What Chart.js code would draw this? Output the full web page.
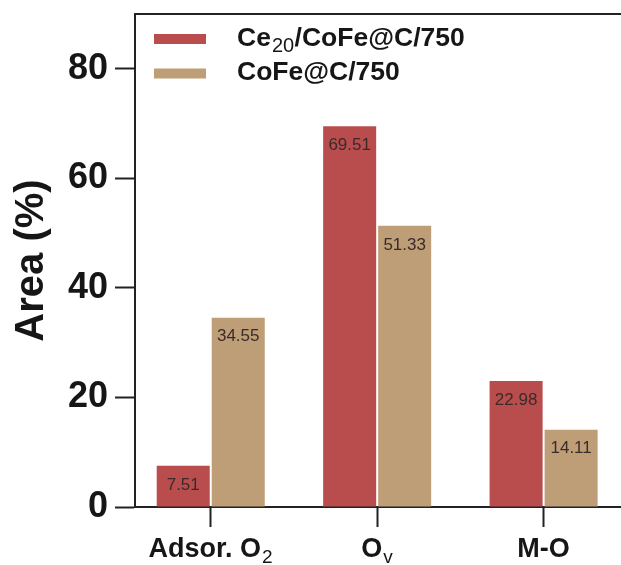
<!DOCTYPE html>
<html>
<head>
<meta charset="utf-8">
<script src="https://cdn.jsdelivr.net/npm/chart.js@4.4.0/dist/chart.umd.min.js"></script>
<style>
  html, body { margin: 0; padding: 0; background: #fff; }
  #wrap { width: 621px; height: 565px; }
</style>
</head>
<body>
<div id="wrap"><canvas id="c" width="621" height="565"></canvas></div>
<script>
// Text inside {braces} is drawn as a subscript.
const categoryLabels = ['Adsor. O{2}', 'O{v}', 'M-O'];
const seriesNames = ['Ce{20}/CoFe@C/750', 'CoFe@C/750'];
const ce20Values = [7.51, 69.51, 22.98];
const cofeValues = [34.55, 51.33, 14.11];
const yTickValues = [0, 20, 40, 60, 80];
const seriesColors = ['#B94C4C', '#BE9E77'];

const FAMILY = '"Liberation Sans", Arial, Helvetica, sans-serif';
const INK = '#161616';
const AXIS = '#222222';

function parseRich(str) {
  const parts = [];
  const re = /\{([^}]*)\}|([^{]+)/g;
  let m;
  while ((m = re.exec(str))) {
    parts.push(m[1] !== undefined ? { t: m[1], sub: true } : { t: m[2], sub: false });
  }
  return parts;
}

function drawRich(ctx, str, x, y, size, subSize, drop, align) {
  const parts = parseRich(str);
  const fontFor = p => p.sub ? `${subSize}px ${FAMILY}` : `bold ${size}px ${FAMILY}`;
  let total = 0;
  parts.forEach(p => { ctx.font = fontFor(p); p.w = ctx.measureText(p.t).width + (p.sub ? 1.5 : 0); total += p.w; });
  let cx = align === 'center' ? x - total / 2 : x;
  ctx.textAlign = 'left';
  ctx.textBaseline = 'alphabetic';
  parts.forEach(p => {
    ctx.font = fontFor(p);
    ctx.fillText(p.t, cx + (p.sub ? 1 : 0), p.sub ? y + drop : y);
    cx += p.w;
  });
}

// Category names under the x axis (with subscripts)
const categoryTicks = {
  id: 'categoryTicks',
  afterDraw(chart) {
    const ctx = chart.ctx;
    const xs = chart.scales.x;
    ctx.save();
    ctx.fillStyle = INK;
    categoryLabels.forEach((lab, i) => {
      drawRich(ctx, lab, xs.getPixelForValue(i), xs.top + 50, 27, 19, 6, 'center');
    });
    ctx.restore();
  }
};

// Value printed inside the top of each bar
const valueLabels = {
  id: 'valueLabels',
  afterDatasetsDraw(chart) {
    const ctx = chart.ctx;
    ctx.save();
    ctx.font = `17px ${FAMILY}`;
    ctx.fillStyle = '#3a2b2b';
    ctx.textAlign = 'center';
    ctx.textBaseline = 'middle';
    chart.data.datasets.forEach((ds, di) => {
      chart.getDatasetMeta(di).data.forEach((bar, i) => {
        ctx.fillText(ds.data[i].y.toFixed(2), bar.x, bar.y + 19);
      });
    });
    ctx.restore();
  }
};

// Top frame line and the legend in the upper left of the plot
const frameAndLegend = {
  id: 'frameAndLegend',
  afterDraw(chart) {
    const ctx = chart.ctx;
    const a = chart.chartArea;
    ctx.save();
    ctx.strokeStyle = AXIS;
    ctx.lineWidth = 2;
    ctx.beginPath();
    ctx.moveTo(a.left - 1, a.top);
    ctx.lineTo(a.right, a.top);
    ctx.stroke();

    chart.data.datasets.forEach((ds, i) => {
      const top = a.top + 20 + i * 34.5;
      ctx.fillStyle = ds.backgroundColor;
      ctx.fillRect(a.left + 19, top, 52, 10);
      ctx.fillStyle = INK;
      drawRich(ctx, ds.label, a.left + 102, top + 11.5, 26.5, 20, 6.5, 'left');
    });
    ctx.restore();
  }
};

new Chart(document.getElementById('c'), {
  type: 'bar',
  data: {
    datasets: [
      {
        label: seriesNames[0],
        data: ce20Values.map((v, i) => ({ x: i, y: v })),
        backgroundColor: seriesColors[0],
        categoryPercentage: 0.661,
        barPercentage: 0.964
      },
      {
        label: seriesNames[1],
        data: cofeValues.map((v, i) => ({ x: i, y: v })),
        backgroundColor: seriesColors[1],
        categoryPercentage: 0.661,
        barPercentage: 0.964
      }
    ]
  },
  options: {
    responsive: false,
    animation: false,
    layout: { padding: { top: 14, left: 0, right: 0, bottom: 0 } },
    plugins: {
      legend: { display: false },
      tooltip: { enabled: false }
    },
    scales: {
      x: {
        type: 'linear',
        min: -0.455,
        max: 2.465,
        offset: false,
        grid: {
          offset: false,
          drawOnChartArea: false,
          drawTicks: true,
          tickLength: 20,
          tickWidth: 2,
          tickColor: AXIS
        },
        border: { display: true, width: 2, color: AXIS },
        ticks: { callback: () => '', autoSkip: false },
        afterBuildTicks: s => { s.ticks = categoryLabels.map((_, i) => ({ value: i })); },
        afterFit: s => { s.height = 58; s.paddingLeft = 0; s.paddingRight = 0; }
      },
      y: {
        min: 0,
        max: 90,
        grid: {
          drawOnChartArea: false,
          drawTicks: true,
          tickLength: 20,
          tickWidth: 2,
          tickColor: AXIS
        },
        border: { display: true, width: 2, color: AXIS },
        ticks: {
          font: { family: FAMILY, weight: 'bold', size: 36 },
          color: INK,
          padding: 7
        },
        afterBuildTicks: s => { s.ticks = yTickValues.map(v => ({ value: v })); },
        title: {
          display: true,
          text: 'Area (%)',
          font: { family: FAMILY, weight: 'bold', size: 40 },
          color: INK,
          padding: { top: 8, bottom: 0 }
        },
        afterFit: s => { s.width = 135; s.paddingTop = 0; s.paddingBottom = 0; }
      }
    }
  },
  plugins: [valueLabels, categoryTicks, frameAndLegend]
});
</script>
</body>
</html>
